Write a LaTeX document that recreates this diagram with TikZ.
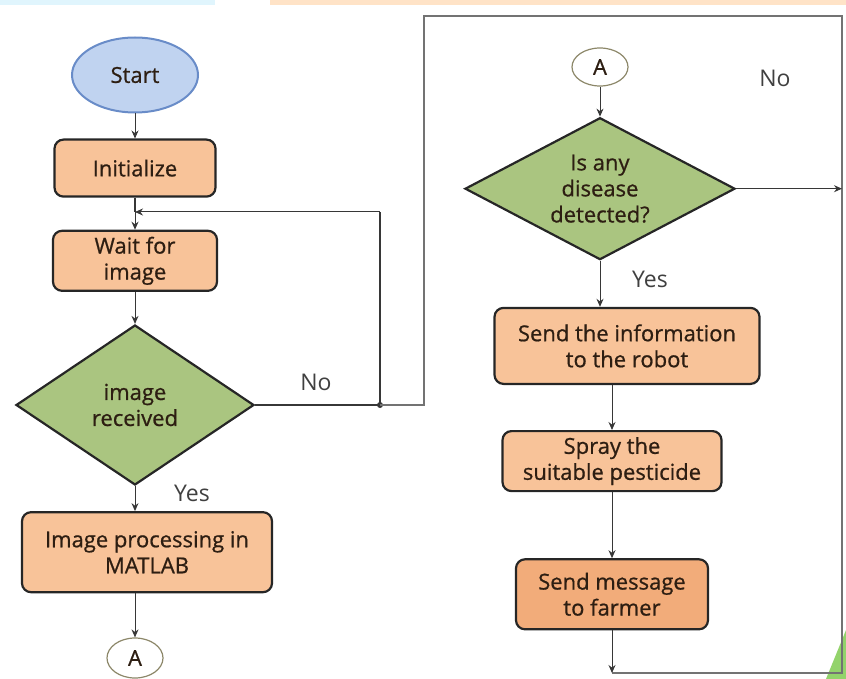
\documentclass[tikz,border=0pt]{standalone}
\usepackage{fontspec}
\setmainfont{Open Sans}
\newfontfamily\boxfont{Open Sans}[FakeBold=0.8]
\usetikzlibrary{shapes.geometric,positioning,arrows.meta}

\definecolor{peach}{RGB}{248,195,153}
\definecolor{peachdark}{RGB}{242,172,122}
\definecolor{leaf}{RGB}{170,197,128}
\definecolor{skyfill}{RGB}{192,211,240}
\definecolor{skyline}{RGB}{105,140,200}
\definecolor{olive}{RGB}{140,135,105}
\definecolor{ink}{RGB}{45,30,18}
\definecolor{edgegray}{RGB}{55,55,55}
\definecolor{slidegreen}{RGB}{120,200,70}

\tikzset{
  proc/.style={draw=black!85, line width=2.2pt, rounded corners=9pt, fill=peach,
    align=center, inner sep=2pt, text=ink, font=\boxfont\fontsize{22}{26}\selectfont},
  decision/.style={diamond, draw=black!85, line width=2.2pt, fill=leaf, aspect=1.6,
    align=center, inner sep=0pt, text=ink, font=\boxfont\fontsize{22}{26}\selectfont},
  term/.style={ellipse, draw=skyline, line width=2pt, fill=skyfill, text=ink,
    minimum width=126pt, minimum height=75pt, font=\boxfont\fontsize{22}{26}\selectfont},
  conn/.style={ellipse, draw=olive, line width=1.2pt, text=ink, inner sep=0pt,
    minimum width=56pt, minimum height=40pt, font=\boxfont\fontsize{22}{26}\selectfont},
  lbl/.style={text=black!75, font=\fontsize{23}{26}\selectfont},
  flow/.style={draw=edgegray, line width=1pt, -{Stealth[length=8pt,width=7pt]}},
  wire/.style={draw=edgegray, line width=1.2pt},
  faintwire/.style={draw=black!55, line width=1.3pt}
}

\begin{document}
\begin{tikzpicture}[x=1pt,y=-1pt]
  \useasboundingbox (0,0) rectangle (846,679);
  % slide decoration
  \fill[cyan!12] (0,0) rectangle (215,5);
  \fill[orange!22] (270,0) rectangle (846,5);
  \fill[slidegreen, opacity=0.8] (846,630) -- (846,679) -- (826,679) -- cycle;

  % left column
  \node (start) [term] at (135,75) {Start};
  \node (init) [proc, below=25pt of start, minimum width=161pt, minimum height=57pt] {Initialize};
  \node (wait) [proc, below=32pt of init, minimum width=164pt, minimum height=60pt] {Wait for\\image};
  \node (recv) [decision, below=32pt of wait, minimum width=238pt, minimum height=160pt] {image\\received};
  \node (matlab) [proc, below=25pt of recv, xshift=12pt, minimum width=250pt, minimum height=80pt] {Image processing in\\MATLAB};
  \node (conA) [conn] at (135,658) {A};

  % right column
  \node (conB) [conn, minimum height=38pt] at (600,67) {A};
  \node (disease) [decision, below=30pt of conB, minimum width=270pt, minimum height=142pt] {Is any\\disease\\detected?};
  \node (info) [proc, below=46pt of disease, xshift=27pt, minimum width=265pt, minimum height=76pt] {Send the information\\to the robot};
  \node (spray) [proc, below=45pt of info, xshift=-15pt, minimum width=219pt, minimum height=60pt] {Spray the\\suitable pesticide};
  \node (farmer) [proc, fill=peachdark, below=66pt of spray, minimum width=192pt, minimum height=70pt] {Send message\\to farmer};

  % labels
  \node (noL) [lbl] at (316,382) {No};
  \node (yesL) [lbl] at (192,493) {Yes};
  \node (noR) [lbl] at (775,78) {No};
  \node (yesR) [lbl] at (650,279) {Yes};

  % bends
  \coordinate (merge) at (135,212);
  \coordinate (jx) at (380,0);
  \coordinate (c2) at (424,16);
  \coordinate (c3) at (842,16);
  \coordinate (c4) at (842,673);
  \coordinate (jn) at (recv.east -| jx);

  \draw[flow] (start) -- (init);
  \draw[wire] (init) -- (merge);
  \draw[flow] (merge) -- (wait);
  \draw[flow] (wait) -- (recv);
  \draw[wire] (recv.east) -- (jn) -- (jn |- merge);
  \draw[flow] (jn |- merge) -- (merge);
  \fill[edgegray] (jn) circle (3pt);
  \draw[faintwire] (jn) -- (jn -| c2) -- (c2) -- (c3) -- (c4) -- (farmer.south |- c4);
  \draw[flow] (recv.south) -- (recv.south |- matlab.north);
  \draw[flow] (conA.north |- matlab.south) -- (conA);

  \draw[flow] (conB) -- (disease);
  \draw[flow] (disease.east) -- (disease.east -| c3);
  \draw[flow] (disease.south) -- (disease.south |- info.north);
  \draw[flow] (spray.north |- info.south) -- (spray);
  \draw[flow] (spray) -- (farmer);
  \draw[flow] (farmer) -- (farmer.south |- c4);
\end{tikzpicture}
\end{document}
